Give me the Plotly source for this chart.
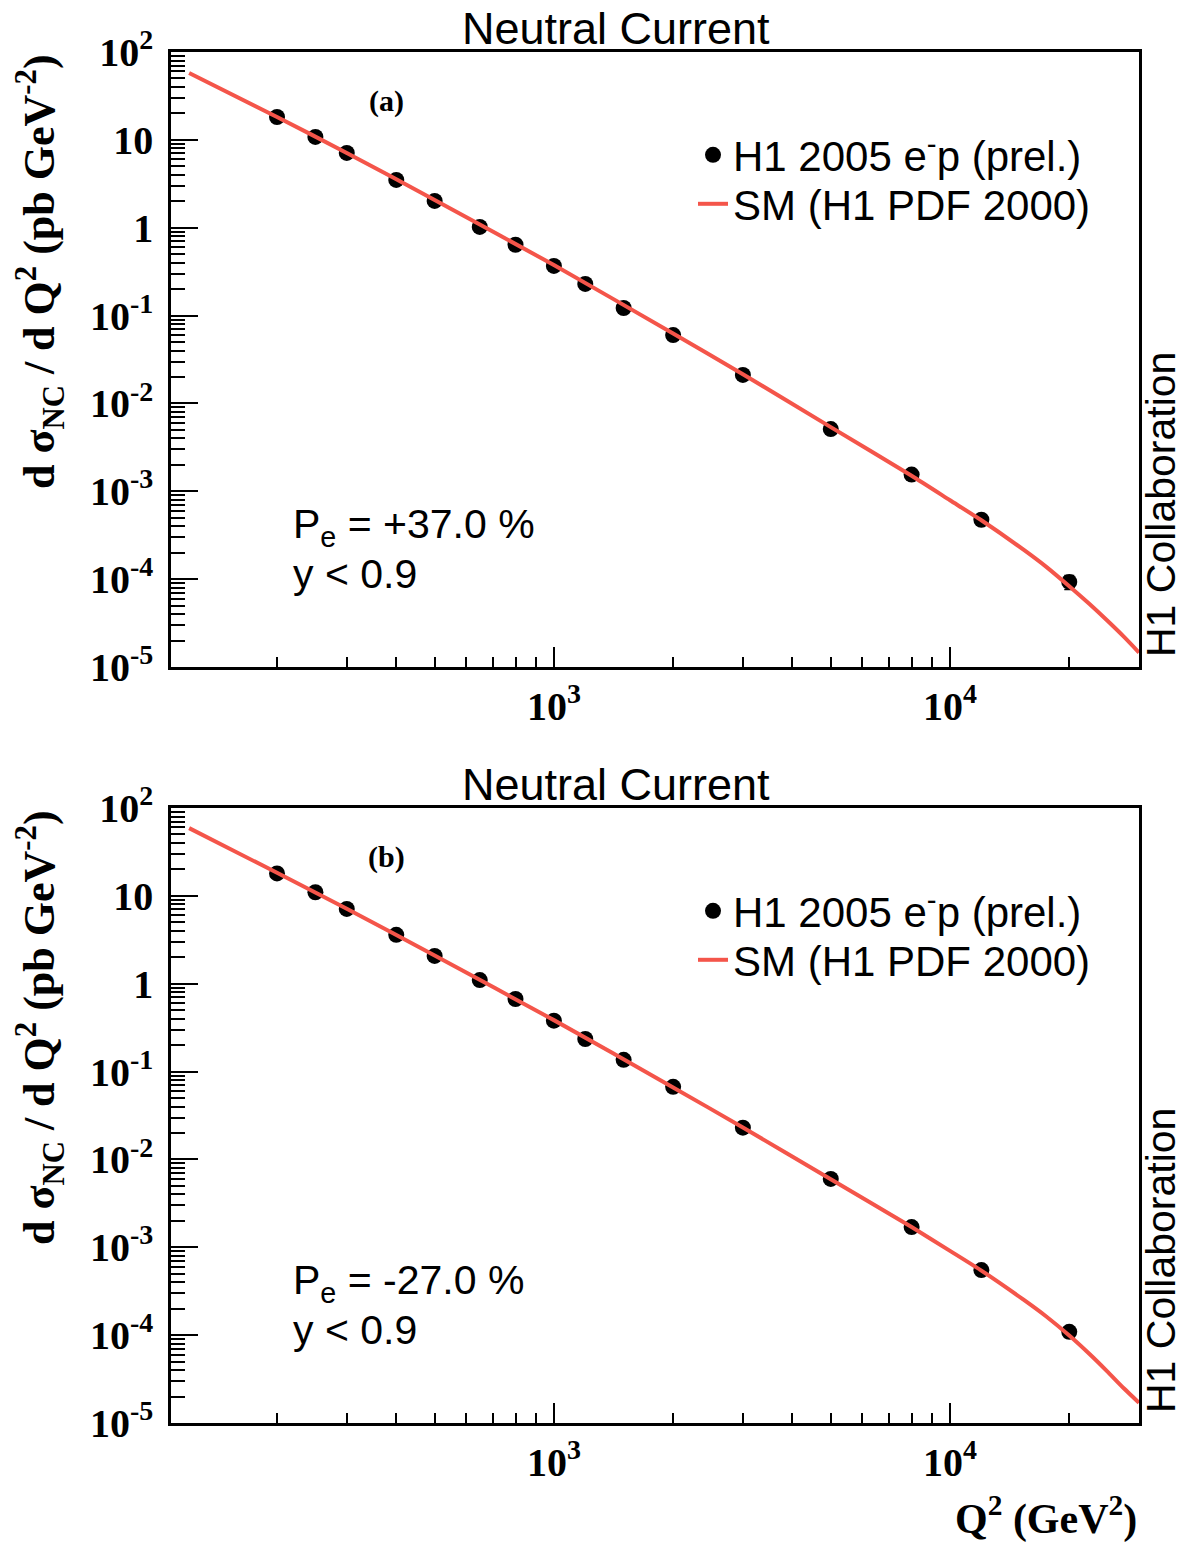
import plotly.graph_objects as go

# ---------------- data ----------------
q2 = [200, 250, 300, 400, 500, 650, 800, 1000, 1200, 1500, 2000, 3000, 5000, 8000, 12000, 20000]

xsec_a = [18.2, 10.8, 7.1, 3.5, 2.02, 1.02, 0.64, 0.367, 0.229, 0.122, 0.060, 0.0211,
          0.0051, 0.00155, 4.74e-4, 9.3e-5]
err_a = [0.5, 0.3, 0.2, 0.1, 0.06, 0.03, 0.02, 0.011, 0.007, 0.004, 0.002, 0.0008,
         0.0002, 0.0001, 5e-5, 1.7e-5]

xsec_b = [18.0, 11.0, 7.1, 3.6, 2.07, 1.1, 0.67, 0.38, 0.235, 0.136, 0.067, 0.023,
          0.006, 0.0017, 5.5e-4, 1.09e-4]
err_b = [0.5, 0.3, 0.2, 0.1, 0.06, 0.03, 0.02, 0.011, 0.007, 0.004, 0.002, 0.0008,
         0.0002, 0.0001, 5.5e-5, 1.5e-5]

sm_q2 = [120, 200, 300, 500, 1000, 2000, 3000, 5000, 8000, 10000, 12000, 15300, 17500,
         20000, 22500, 24900, 27500, 30000]
sm_a = [57.7, 18.2, 7.1, 2.07, 0.376, 0.0624, 0.0215, 0.00537, 0.0015, 7.9e-4, 4.68e-4,
        2.18e-4, 1.38e-4, 8.3e-5, 5.2e-5, 3.4e-5, 2.2e-5, 1.46e-5]
sm_b = [59.0, 18.3, 7.13, 2.09, 0.385, 0.066, 0.0231, 0.00596, 0.0017, 9.1e-4, 5.43e-4,
        2.55e-4, 1.63e-4, 9.9e-5, 6.1e-5, 3.9e-5, 2.47e-5, 1.7e-5]

y_tickvals = [1e-5, 1e-4, 1e-3, 1e-2, 1e-1, 1, 10, 100]
y_ticktext = ["10<sup>-5</sup>", "10<sup>-4</sup>", "10<sup>-3</sup>", "10<sup>-2</sup>",
              "10<sup>-1</sup>", "1", "10", "10<sup>2</sup>"]
x_tickvals = [1000, 10000]
x_ticktext = ["10<sup>3</sup>", "10<sup>4</sup>"]

panel_labels = ["(a)", "(b)"]
pol_labels = ["P<sub>e</sub> = +37.0 %", "P<sub>e</sub> = -27.0 %"]
cut_label = "y < 0.9"
title_text = "Neutral Current"
data_name = "H1 2005 e<sup>-</sup>p (prel.)"
sm_name = "SM (H1 PDF 2000)"
ytitle = "d σ<sub>NC</sub> / d Q<sup>2</sup> (pb GeV<sup>-2</sup>)"
xtitle = "Q<sup>2</sup> (GeV<sup>2</sup>)"
side_text = "H1 Collaboration"

# ---------------- layout geometry ----------------
W, H = 1189, 1542
def px(x):
    return x / W
def py(y):
    return 1 - y / H

X0, X1 = 171, 1139
panels = [(52, 667), (808, 1423)]
OFF = 756

RED = "#f4554a"
SANS = "Liberation Sans, Arial, sans-serif"
SERIF = "Liberation Serif, Times New Roman, serif"

minor_y = [k * 10.0 ** e for e in range(-5, 2) for k in range(2, 10)]
minor_x = [k * 10.0 ** e for e in range(2, 5) for k in range(2, 10)]

fig = go.Figure()

series = [(xsec_a, err_a, sm_a), (xsec_b, err_b, sm_b)]
for i, (xs, er, sm) in enumerate(series):
    xa = "x" if i == 0 else "x2"
    ya = "y" if i == 0 else "y2"
    lg1 = "legend" if i == 0 else "legend3"
    lg2 = "legend2" if i == 0 else "legend4"
    fig.add_trace(go.Scatter(
        x=q2, y=xs, mode="markers", name=data_name,
        marker=dict(color="black", size=16, symbol="circle"),
        error_y=dict(type="data", array=er, color="black", thickness=1.5, width=5),
        xaxis=xa, yaxis=ya, legend=lg1))
    fig.add_trace(go.Scatter(
        x=sm_q2, y=sm, mode="lines", name=sm_name,
        line=dict(color=RED, width=4, shape="spline", smoothing=0.6),
        xaxis=xa, yaxis=ya, legend=lg2))

axis_common = dict(showline=True, linecolor="black", linewidth=2.5, mirror=True,
                   showgrid=False, zeroline=False, ticks="inside", tickcolor="black",
                   tickwidth=2, automargin=False)

layout = dict(width=W, height=H, margin=dict(l=0, r=0, t=0, b=0, pad=0, autoexpand=False),
              autosize=False,
              paper_bgcolor="white", plot_bgcolor="white", showlegend=True)

for i, (t, b) in enumerate(panels):
    sx = "" if i == 0 else "2"
    layout["xaxis" + sx] = dict(
        type="log", range=[2.0334, 4.4771], domain=[px(X0), px(X1)],
        anchor="y" + sx, tickvals=x_tickvals, ticktext=x_ticktext, ticklen=20,
        tickfont=dict(family=SERIF, size=40, color="black", weight="bold"),
        ticklabelstandoff=2,
        minor=dict(tickvals=minor_x, ticks="inside", ticklen=10, tickwidth=2,
                   tickcolor="black", showgrid=False),
        **axis_common)
    layout["yaxis" + sx] = dict(
        type="log", range=[-5, 2], domain=[py(b), py(t)],
        anchor="x" + sx, tickvals=y_tickvals, ticktext=y_ticktext, ticklen=27,
        tickfont=dict(family=SERIF, size=40, color="black", weight="bold"),
        ticklabelstandoff=7,
        minor=dict(tickvals=minor_y, ticks="inside", ticklen=14, tickwidth=2,
                   tickcolor="black", showgrid=False),
        **axis_common)

legend_common = dict(xanchor="left", yanchor="middle", bgcolor="rgba(0,0,0,0)",
                     font=dict(family=SANS, size=42, color="black"),
                     itemwidth=30)
legend_rows = [("legend", 155), ("legend2", 204), ("legend3", 155 + OFF), ("legend4", 204 + OFF)]
for name, yrow in legend_rows:
    layout[name] = dict(x=px(693), y=py(yrow), **legend_common)

annotations = []
for i in range(2):
    o = i * OFF
    annotations.append(dict(x=px(616), y=py(28 + o), text=title_text, showarrow=False,
                            xref="paper", yref="paper", xanchor="center", yanchor="middle",
                            font=dict(family=SANS, size=45, color="black")))
    annotations.append(dict(x=px(386), y=py(101 + o), text=panel_labels[i], showarrow=False,
                            xref="paper", yref="paper", xanchor="center", yanchor="middle",
                            font=dict(family=SERIF, size=30, color="black", weight="bold")))
    annotations.append(dict(x=px(291), y=py(527 + o), text=pol_labels[i], showarrow=False,
                            xref="paper", yref="paper", xanchor="left", yanchor="middle",
                            font=dict(family=SANS, size=41, color="black")))
    annotations.append(dict(x=px(291), y=py(574 + o), text=cut_label, showarrow=False,
                            xref="paper", yref="paper", xanchor="left", yanchor="middle",
                            font=dict(family=SANS, size=41, color="black")))
    annotations.append(dict(x=px(40), y=py(272 + o), text=ytitle, showarrow=False,
                            textangle=-90,
                            xref="paper", yref="paper", xanchor="center", yanchor="middle",
                            font=dict(family=SERIF, size=44, color="black", weight="bold")))
    annotations.append(dict(x=px(1161), y=py(505 + o), text=side_text, showarrow=False,
                            textangle=-90,
                            xref="paper", yref="paper", xanchor="center", yanchor="middle",
                            font=dict(family=SANS, size=41, color="black")))
annotations.append(dict(x=px(1139), y=py(1516), text=xtitle, showarrow=False,
                        xref="paper", yref="paper", xanchor="right", yanchor="middle",
                        font=dict(family=SERIF, size=42, color="black", weight="bold")))
layout["annotations"] = annotations

fig.update_layout(**layout)
fig.write_html("out.html", config={"displayModeBar": False},
               post_script="document.body.style.margin='0';")
